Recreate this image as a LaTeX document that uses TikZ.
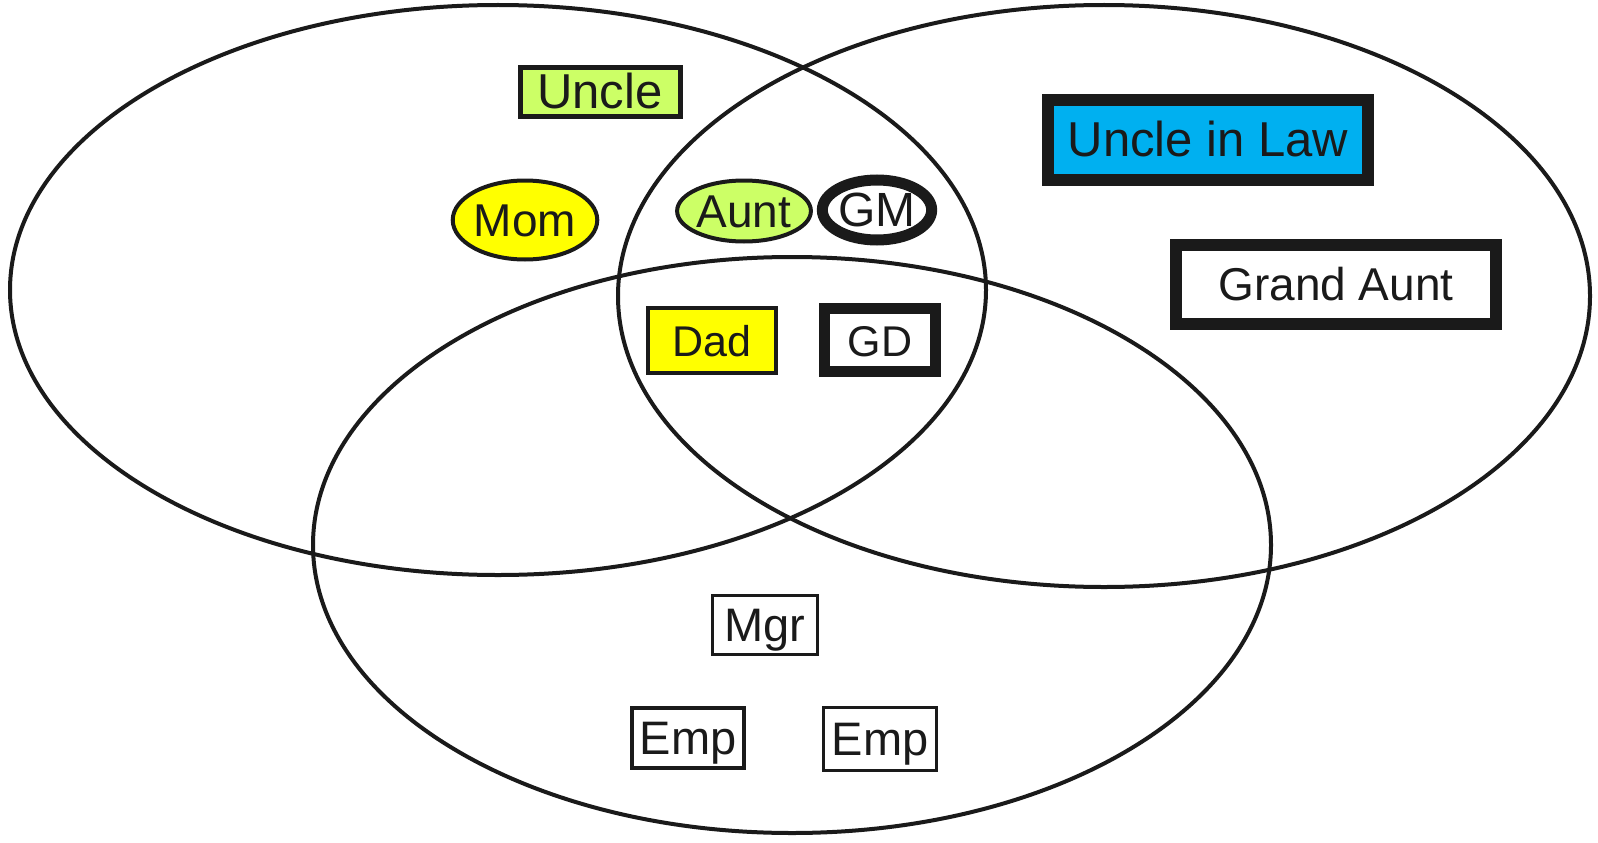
\documentclass[tikz,border=0pt]{standalone}
\usepackage{fontspec}
\setmainfont{Liberation Sans}
\usetikzlibrary{shapes.geometric}

\definecolor{ink}{HTML}{1A1A1A}
\definecolor{lime}{HTML}{CCFF66}
\definecolor{sun}{HTML}{FFFF00}
\definecolor{sky}{HTML}{00B0F0}

\newcommand{\fsz}[1]{\fontsize{#1}{#1}\selectfont}

\begin{document}
\begin{tikzpicture}[x=1pt,y=-1pt,
  every node/.style={inner sep=0pt, text=ink, font=\fsz{46},
    text height=33pt, text depth=0pt},
  set/.style={draw=ink, line width=4pt},
  kinbox/.style={draw=ink, rectangle, line width=#1},
  kinoval/.style={draw=ink, ellipse, line width=#1}]
\useasboundingbox (0,0) rectangle (1598,843);

% the three sets
\draw [set] (498,290) ellipse [x radius=488, y radius=285];
\draw [set] (1104,296) ellipse [x radius=486, y radius=291];
\draw [set] (792,545) ellipse [x radius=479, y radius=288];

% left set only
\node [kinbox=5pt, fill=lime, minimum width=160pt, minimum height=48pt, font=\fsz{49}] (uncle) at (600,92) {Uncle};
\node [kinoval=4pt, fill=sun, minimum width=138pt, minimum height=79pt] (mom) at (525,220) {Mom};

% left and right
\node [kinoval=4pt, fill=lime, minimum width=128pt, minimum height=61pt] (aunt) at (744,211) {Aunt};
\node [kinoval=11pt, fill=white, minimum width=107pt, minimum height=60pt, font=\fsz{48}] (gm) at (877,210) {GM};

% all three
\node [kinbox=4pt, fill=sun, minimum width=128pt, minimum height=65pt, font=\fsz{43}] (dad) at (712,340) {Dad};
\node [kinbox=11pt, fill=white, minimum width=111pt, minimum height=63pt, font=\fsz{43}] (gd) at (880,340) {GD};

% right set only
\node [kinbox=12pt, fill=sky, minimum width=320pt, minimum height=80pt, font=\fsz{49}] (uncleinlaw) at (1208,140) {Uncle in Law};
\node [kinbox=12pt, fill=white, minimum width=320pt, minimum height=79pt] (grandaunt) at (1336,284) {Grand Aunt};

% bottom set only
\node [kinbox=3.5pt, minimum width=105pt, minimum height=59pt, font=\fsz{47}] (mgr) at (765,625) {Mgr};
\node [kinbox=3.5pt, minimum width=112pt, minimum height=60pt, font=\fsz{47}] (emp1) at (688,738) {Emp};
\node [kinbox=3.5pt, minimum width=113pt, minimum height=63pt, font=\fsz{47}] (emp2) at (880,739) {Emp};
\end{tikzpicture}
\end{document}
